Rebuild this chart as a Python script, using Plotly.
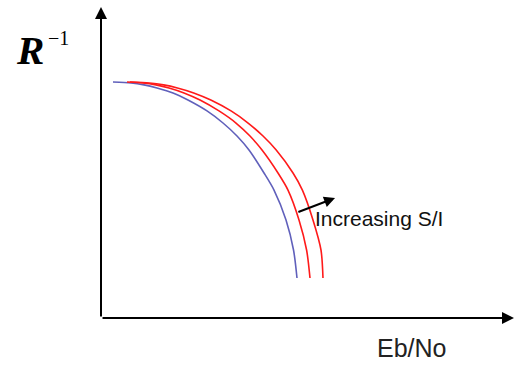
import plotly.graph_objects as go

# Conceptual curves: R^-1 vs Eb/No (arbitrary units)
y_levels = [0.996, 0.992, 0.984, 0.971, 0.950, 0.920, 0.874, 0.823, 0.768, 0.709,
            0.612, 0.540, 0.414, 0.287, 0.169]

blue_x = [0.289, 0.723, 1.036, 1.349, 1.735, 2.096, 2.554, 2.940, 3.277, 3.566,
          3.928, 4.169, 4.458, 4.639, 4.723]
blue_y = y_levels

red1_x = [0.627, 1.012, 1.325, 1.639, 2.000, 2.386, 2.843, 3.253, 3.590, 3.880,
          4.265, 4.506, 4.771, 4.954, 5.036]
red1_y = y_levels

red2_x = [0.699, 1.169, 1.508, 1.841, 2.234, 2.646, 3.133, 3.545, 3.904, 4.222,
          4.627, 4.853, 5.108, 5.301, 5.349]
red2_y = y_levels

y_label = "R"
y_label_sup = "\u22121"
x_label = "Eb/No"
arrow_label = "Increasing S/I"

fig = go.Figure()
fig.add_trace(go.Scatter(x=blue_x, y=blue_y, mode="lines",
                         line=dict(color="#6060bb", width=1.6, shape="spline", smoothing=0.8),
                         hoverinfo="skip", showlegend=False))
fig.add_trace(go.Scatter(x=red1_x, y=red1_y, mode="lines",
                         line=dict(color="#ff1a1a", width=1.6, shape="spline", smoothing=0.8),
                         hoverinfo="skip", showlegend=False))
fig.add_trace(go.Scatter(x=red2_x, y=red2_y, mode="lines",
                         line=dict(color="#ff1a1a", width=1.6, shape="spline", smoothing=0.8),
                         hoverinfo="skip", showlegend=False))

annotations = [
    # y axis arrow
    dict(xref="paper", yref="paper", x=0, y=1.0097, ax=0, ay=311, axref="pixel", ayref="pixel",
         text="", showarrow=True, arrowhead=2, arrowwidth=2, arrowsize=1.2, arrowcolor="#000"),
    # x axis arrow
    dict(xref="paper", yref="paper", x=0.9952, y=0, ax=-413, ay=0, axref="pixel", ayref="pixel",
         text="", showarrow=True, arrowhead=2, arrowwidth=2, arrowsize=1.2, arrowcolor="#000"),
    # increasing arrow
    dict(xref="x", yref="y", x=5.64, y=0.5066, ax=4.72, ay=0.445, axref="x", ayref="y",
         text="", showarrow=True, arrowhead=2, arrowwidth=2, arrowsize=1.1, arrowcolor="#000"),
    dict(xref="x", yref="y", x=5.10, y=0.418, text=arrow_label, showarrow=False,
         xanchor="left", yanchor="middle",
         font=dict(family="Liberation Sans", size=21, color="#111")),
    dict(xref="paper", yref="paper", x=0.747, y=-0.097, text=x_label, showarrow=False,
         xanchor="center", yanchor="middle",
         font=dict(family="Liberation Sans", size=25, color="#222")),
    dict(xref="paper", yref="paper", x=-0.171, y=0.870, text="<b><i>" + y_label + "</i></b>",
         showarrow=False, xanchor="center", yanchor="middle",
         font=dict(family="Liberation Serif", size=41, color="#000")),
    dict(xref="paper", yref="paper", x=-0.1036, y=0.909, text=y_label_sup,
         showarrow=False, xanchor="center", yanchor="middle",
         font=dict(family="Liberation Serif", size=20, color="#000")),
]

fig.update_layout(
    width=516, height=366,
    margin=dict(l=101, r=0, t=10, b=48),
    paper_bgcolor="white", plot_bgcolor="white",
    xaxis=dict(range=[0, 10], showgrid=False, zeroline=False, showticklabels=False,
               showline=False, ticks="", fixedrange=True),
    yaxis=dict(range=[0, 1.3], showgrid=False, zeroline=False, showticklabels=False,
               showline=False, ticks="", fixedrange=True),
    annotations=annotations,
    showlegend=False,
)

fig.write_html("out.html", config={"displayModeBar": False},
               post_script="document.body.style.margin='0px';document.body.style.overflow='hidden';")
